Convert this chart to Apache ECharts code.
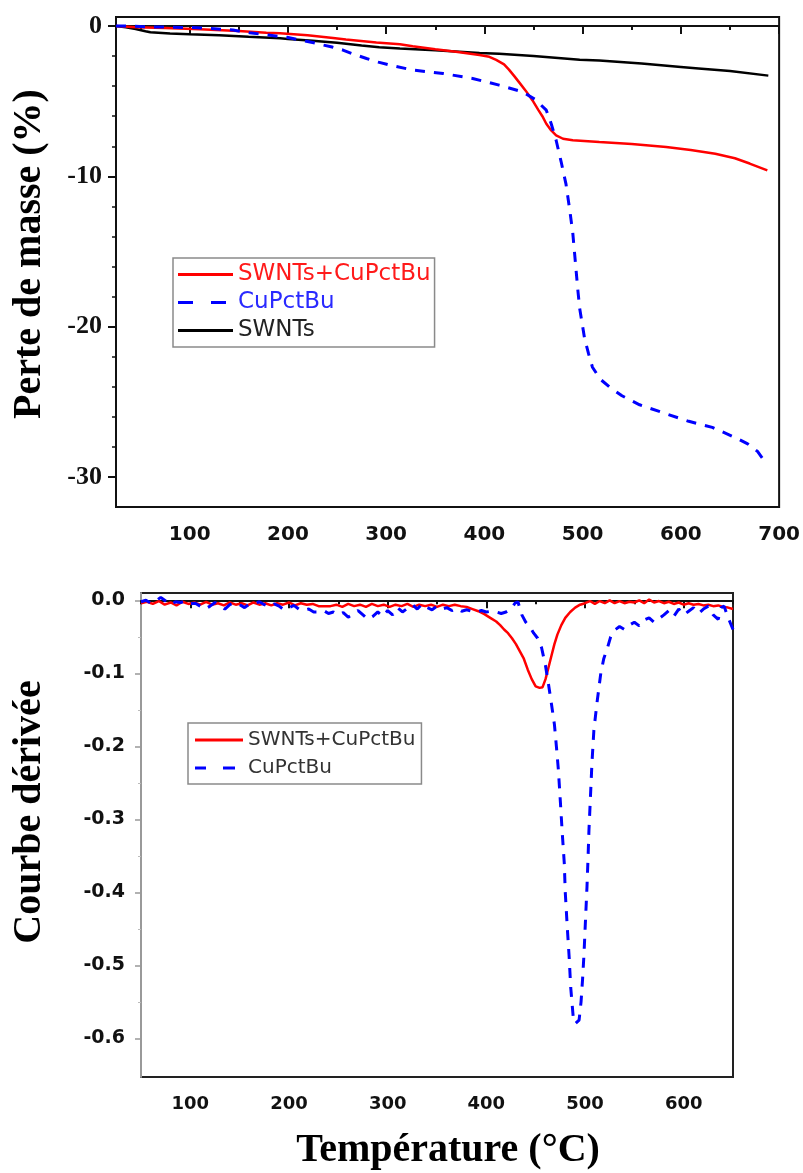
<!DOCTYPE html>
<html>
<head>
<meta charset="utf-8">
<script src="https://cdn.jsdelivr.net/npm/echarts@6.0.0/dist/echarts.min.js"></script>
<style>
html,body{margin:0;padding:0;background:#fff;}
#chart{width:803px;height:1173px;}
</style>
</head>
<body>
<div id="chart"></div>
<script>
// ---------- TGA (top) ----------
var tgaXTicks = [100, 200, 300, 400, 500, 600, 700];
var tgaXMinor = [50, 150, 250, 350, 450, 550, 650];
var tgaYTicks = [-30, -20, -10, 0];
var tgaYMinor = [-28, -26, -24, -22, -18, -16, -14, -12, -8, -6, -4, -2];

var swntsT = [25, 35, 45, 55, 60, 80, 100, 130, 160, 192, 200, 225, 250, 275, 293, 314, 350, 395, 415, 450, 497, 517, 560, 600, 618, 650, 689];
var swntsW = [0, -0.08, -0.2, -0.35, -0.42, -0.5, -0.55, -0.62, -0.72, -0.82, -0.86, -0.98, -1.12, -1.3, -1.42, -1.5, -1.62, -1.8, -1.85, -2.0, -2.25, -2.3, -2.5, -2.72, -2.82, -3.0, -3.3];

var hybT = [25, 45, 75, 110, 150, 178, 192, 220, 246, 259, 290, 314, 327, 350, 371, 395, 405, 412, 420, 425, 430, 436, 442, 449, 455, 459, 463, 468, 473, 480, 490, 517, 550, 585, 610, 635, 655, 670, 688];
var hybW = [0, -0.08, -0.14, -0.22, -0.33, -0.45, -0.48, -0.62, -0.8, -0.9, -1.1, -1.22, -1.35, -1.55, -1.71, -1.93, -2.05, -2.25, -2.55, -2.9, -3.3, -3.8, -4.3, -4.95, -5.6, -6.0, -6.5, -6.95, -7.27, -7.5, -7.6, -7.72, -7.85, -8.05, -8.25, -8.5, -8.8, -9.15, -9.6];

var cuT = [25, 40, 55, 80, 100, 120, 144, 161, 180, 199, 225, 245, 256, 268, 280, 292, 304, 327, 358, 388, 415, 439, 452, 463, 468, 473, 478, 483, 487, 490, 493, 495, 497, 500, 502, 506, 510, 518, 527, 540, 558, 585, 608, 632, 656, 668, 678, 688];
var cuW = [0, 0, -0.05, -0.08, -0.1, -0.15, -0.27, -0.45, -0.6, -0.75, -1.1, -1.4, -1.6, -1.9, -2.16, -2.4, -2.6, -2.93, -3.16, -3.49, -3.93, -4.38, -4.9, -5.6, -6.5, -7.6, -9.0, -10.5, -12.3, -13.8, -16.0, -17.5, -18.8, -20.0, -20.8, -21.8, -22.7, -23.5, -24.0, -24.6, -25.2, -25.8, -26.3, -26.7, -27.4, -27.8, -28.3, -29.2];

// ---------- DTG (bottom) ----------
var dtgXTicks = [100, 200, 300, 400, 500, 600];
var dtgXMinor = [50, 150, 250, 350, 450, 550, 650];
var dtgYTicks = [-0.6, -0.5, -0.4, -0.3, -0.2, -0.1, 0];
var dtgYMinor = [-0.55, -0.45, -0.35, -0.25, -0.15, -0.05];

var dHybT = [50, 56, 62, 68, 74, 80, 86, 92, 98, 104, 110, 116, 122, 128, 134, 140, 146, 152, 158, 164, 170, 176, 182, 188, 194, 200, 206, 212, 218, 224, 230, 236, 242, 248, 254, 260, 266, 272, 278, 284, 290, 296, 302, 308, 314, 320, 326, 332, 338, 344, 350, 356, 362, 368, 374, 380, 386, 392, 398, 404, 410, 414, 418, 422, 426, 430, 434, 438, 442, 446, 450, 454, 457, 460, 463, 466, 469, 472, 476, 480, 485, 490, 495, 500, 505, 510, 515, 520, 525, 530, 535, 540, 545, 550, 555, 560, 565, 570, 575, 580, 585, 590, 595, 600, 605, 610, 615, 620, 625, 630, 635, 640, 645, 650];
var dHybV = [-0.004, -0.002, -0.005, -0.001, -0.006, -0.003, -0.007, -0.002, -0.005, -0.003, -0.006, -0.002, -0.006, -0.004, -0.007, -0.003, -0.006, -0.004, -0.007, -0.003, -0.006, -0.004, -0.007, -0.004, -0.006, -0.003, -0.007, -0.004, -0.006, -0.005, -0.008, -0.008, -0.008, -0.006, -0.009, -0.005, -0.008, -0.006, -0.009, -0.005, -0.008, -0.006, -0.009, -0.006, -0.008, -0.005, -0.009, -0.006, -0.008, -0.006, -0.009, -0.006, -0.008, -0.006, -0.008, -0.009, -0.012, -0.015, -0.019, -0.024, -0.029, -0.034, -0.04, -0.045, -0.052, -0.06, -0.07, -0.08, -0.095, -0.108, -0.118, -0.12, -0.119, -0.108, -0.092, -0.076, -0.06, -0.047, -0.034, -0.024, -0.016, -0.01, -0.006, -0.004, -0.001, -0.005, -0.001, -0.004, 0.0, -0.004, -0.001, -0.004, -0.002, -0.003, 0.0, -0.004, 0.001, -0.003, -0.001, -0.004, -0.002, -0.005, -0.003, -0.006, -0.004, -0.006, -0.005, -0.007, -0.006, -0.008, -0.007, -0.009, -0.01, -0.012];

var dCuT = [50, 55, 60, 65, 70, 75, 80, 85, 90, 95, 100, 105, 110, 115, 120, 125, 130, 135, 140, 145, 150, 155, 160, 165, 170, 175, 180, 185, 190, 195, 200, 205, 210, 215, 220, 225, 230, 235, 240, 245, 250, 255, 260, 265, 270, 275, 280, 285, 290, 295, 300, 305, 310, 315, 320, 325, 330, 335, 340, 345, 350, 355, 360, 365, 370, 375, 380, 385, 390, 395, 400, 405, 410, 415, 420, 425, 429, 432, 436, 440, 444, 448, 452, 456, 460, 463, 466, 469, 471, 473, 475, 477, 479, 480, 482, 484, 485.5, 488, 490, 492, 494, 496, 497.5, 499, 500.5, 502, 503, 504, 505.5, 507, 509, 512, 516, 519, 523, 526, 530, 535, 540, 545, 550, 555, 560, 565, 570, 575, 580, 585, 590, 595, 600, 605, 610, 615, 620, 625, 630, 635, 638, 641, 644, 647, 650];
var dCuV = [-0.002, 0.0, -0.004, -0.001, 0.004, -0.001, -0.006, -0.002, -0.003, -0.001, -0.005, -0.004, -0.008, -0.012, -0.008, -0.003, -0.007, -0.012, -0.006, -0.003, -0.006, -0.01, -0.005, -0.004, -0.002, -0.006, -0.009, -0.005, -0.008, -0.013, -0.01, -0.007, -0.012, -0.014, -0.012, -0.016, -0.016, -0.014, -0.018, -0.016, -0.02, -0.017, -0.023, -0.019, -0.014, -0.02, -0.026, -0.022, -0.016, -0.022, -0.014, -0.02, -0.01, -0.016, -0.011, -0.006, -0.012, -0.005, -0.01, -0.013, -0.008, -0.012, -0.01, -0.014, -0.011, -0.015, -0.013, -0.015, -0.016, -0.014, -0.016, -0.015, -0.016, -0.018, -0.016, -0.012, -0.004, -0.002, -0.02, -0.03, -0.036, -0.045, -0.052, -0.065, -0.09, -0.115, -0.142, -0.17, -0.2, -0.232, -0.275, -0.32, -0.36, -0.4, -0.447, -0.49, -0.53, -0.57, -0.58, -0.582, -0.575, -0.55, -0.52, -0.484, -0.438, -0.393, -0.356, -0.315, -0.27, -0.224, -0.178, -0.142, -0.1, -0.08, -0.064, -0.05, -0.041, -0.036, -0.04, -0.034, -0.03, -0.035, -0.027, -0.024, -0.03, -0.025, -0.02, -0.014, -0.022, -0.012, -0.02, -0.015, -0.01, -0.018, -0.012, -0.008, -0.02, -0.026, -0.01, -0.008, -0.02, -0.03, -0.04];

var seriesNames = ['SWNTs+CuPctBu', 'CuPctBu', 'SWNTs'];
var titleTop = 'Perte de masse (%)';
var titleBottom = 'Courbe dérivée';
var titleX = 'Température (°C)';

function pairs(xs, ys) { return xs.map(function (x, i) { return [x, ys[i]]; }); }

var sans = 'DejaVu Sans';
var serif = 'Liberation Serif';

// legend sample icons (solid / dashed strokes)
var iconSolidTop = 'path://M0,0h55v3h-55z';
var iconDashTop = 'path://M0,0h15v3h-15zM33,0h15v3h-15zM54.9,1.4h0.1v0.1h-0.1z';
var iconSolidBot = 'path://M0,0h48v3h-48z';
var iconDashBot = 'path://M0,0h11v3h-11zM28,0h12v3h-12zM47.9,1.4h0.1v0.1h-0.1z';

var chart = echarts.init(document.getElementById('chart'), null, { renderer: 'canvas' });
chart.setOption({
  backgroundColor: '#fff',
  animation: false,
  grid: [
    { left: 116, top: 17, width: 665, height: 490, show: true, borderColor: '#111', borderWidth: 2, backgroundColor: 'transparent' },
    { left: 141, top: 593, width: 592, height: 484, show: true, borderColor: '#222', borderWidth: 2, backgroundColor: 'transparent' }
  ],
  graphic: [
    { type: 'text', x: 30, y: 254, rotation: Math.PI / 2,
      style: { text: titleTop, font: 'bold 40px "Liberation Serif"', fill: '#000', align: 'center', verticalAlign: 'middle' } },
    { type: 'text', x: 30, y: 812, rotation: Math.PI / 2,
      style: { text: titleBottom, font: 'bold 40px "Liberation Serif"', fill: '#000', align: 'center', verticalAlign: 'middle' } },
    { type: 'text', x: 448, y: 1151,
      style: { text: titleX, font: 'bold 40px "Liberation Serif"', fill: '#000', align: 'center', verticalAlign: 'middle' } }
  ],
  legend: [
    {
      orient: 'vertical', left: 173, top: 258,
      data: [
        { name: seriesNames[0], icon: iconSolidTop, textStyle: { color: '#ff1a1a' } },
        { name: seriesNames[1], icon: iconDashTop, textStyle: { color: '#2a2aff' } },
        { name: seriesNames[2], icon: iconSolidTop, textStyle: { color: '#222' } }
      ],
      itemWidth: 55, itemHeight: 3, itemGap: 5,
      padding: [5, 4, 5, 5],
      borderColor: '#8a8a8a', borderWidth: 1.5, backgroundColor: '#fff',
      textStyle: { fontFamily: sans, fontSize: 23, lineHeight: 23 },
      selectedMode: false
    },
    {
      orient: 'vertical', left: 188, top: 723,
      data: [
        { name: seriesNames[0], icon: iconSolidBot },
        { name: seriesNames[1], icon: iconDashBot }
      ],
      itemWidth: 48, itemHeight: 3, itemGap: 8,
      padding: [7, 6, 6, 7],
      borderColor: '#8a8a8a', borderWidth: 1.5, backgroundColor: '#fff',
      textStyle: { fontFamily: sans, fontSize: 20, lineHeight: 20, color: '#333' },
      selectedMode: false
    }
  ],
  xAxis: [
    {
      gridIndex: 0, type: 'value', min: 25, max: 700, position: 'bottom',
      axisLine: { show: true, lineStyle: { color: '#111', width: 2 } },
      axisTick: { show: true, customValues: tgaXTicks, length: 8, lineStyle: { color: '#111', width: 2 } },
      axisLabel: { customValues: tgaXTicks, fontFamily: sans, fontWeight: 'bold', fontSize: 20, color: '#111', margin: 18 },
      splitLine: { show: false }
    },
    {
      gridIndex: 0, type: 'value', min: 25, max: 700, position: 'bottom',
      axisLine: { show: false },
      axisTick: { show: true, customValues: tgaXMinor, length: 4, lineStyle: { color: '#111', width: 2 } },
      axisLabel: { show: false },
      splitLine: { show: false }
    },
    {
      gridIndex: 1, type: 'value', min: 50, max: 650, position: 'bottom',
      axisLine: { show: true, lineStyle: { color: '#111', width: 2 } },
      axisTick: { show: true, customValues: dtgXTicks, length: 8, lineStyle: { color: '#111', width: 2 } },
      axisLabel: { customValues: dtgXTicks, fontFamily: sans, fontWeight: 'bold', fontSize: 18, color: '#111', margin: 18 },
      splitLine: { show: false }
    },
    {
      gridIndex: 1, type: 'value', min: 50, max: 650, position: 'bottom',
      axisLine: { show: false },
      axisTick: { show: true, customValues: dtgXMinor, length: 4, lineStyle: { color: '#111', width: 2 } },
      axisLabel: { show: false },
      splitLine: { show: false }
    }
  ],
  yAxis: [
    {
      gridIndex: 0, type: 'value', min: -32, max: 0.6, position: 'left',
      axisLine: { show: true, lineStyle: { color: '#111', width: 2 } },
      axisTick: { show: true, customValues: tgaYTicks, length: 8, lineStyle: { color: '#111', width: 2 } },
      axisLabel: { customValues: tgaYTicks, fontFamily: serif, fontWeight: 'bold', fontSize: 26, color: '#111', margin: 14 },
      splitLine: { show: false }
    },
    {
      gridIndex: 0, type: 'value', min: -32, max: 0.6, position: 'left',
      axisLine: { show: false },
      axisTick: { show: true, customValues: tgaYMinor, length: 4, lineStyle: { color: '#111', width: 1.5 } },
      axisLabel: { show: false },
      splitLine: { show: false }
    },
    {
      gridIndex: 1, type: 'value', min: -0.653, max: 0.01, position: 'left',
      axisLine: { show: true, lineStyle: { color: '#999', width: 2 } },
      axisTick: { show: true, customValues: dtgYTicks, length: 6, lineStyle: { color: '#999', width: 1.5 } },
      axisLabel: { customValues: dtgYTicks, formatter: function (v) { return v.toFixed(1); }, fontFamily: sans, fontWeight: 'bold', fontSize: 19, color: '#111', margin: 16 },
      splitLine: { show: false }
    },
    {
      gridIndex: 1, type: 'value', min: -0.653, max: 0.01, position: 'left',
      axisLine: { show: false },
      axisTick: { show: true, customValues: dtgYMinor, length: 3, lineStyle: { color: '#bbb', width: 1 } },
      axisLabel: { show: false },
      splitLine: { show: false }
    }
  ],
  series: [
    { name: seriesNames[2], type: 'line', xAxisIndex: 0, yAxisIndex: 0, symbol: 'none', smooth: false,
      data: pairs(swntsT, swntsW), lineStyle: { color: '#000', width: 2.5 }, itemStyle: { color: '#000' } },
    { name: seriesNames[0], type: 'line', xAxisIndex: 0, yAxisIndex: 0, symbol: 'none', smooth: false,
      data: pairs(hybT, hybW), lineStyle: { color: '#ff0000', width: 2.5 }, itemStyle: { color: '#ff0000' } },
    { name: seriesNames[1], type: 'line', xAxisIndex: 0, yAxisIndex: 0, symbol: 'none', smooth: false,
      data: pairs(cuT, cuW), lineStyle: { color: '#0000ff', width: 3, type: [10, 9] }, itemStyle: { color: '#0000ff' } },
    { name: seriesNames[0], type: 'line', xAxisIndex: 2, yAxisIndex: 2, symbol: 'none', smooth: false,
      data: pairs(dHybT, dHybV), lineStyle: { color: '#ff0000', width: 2.5 }, itemStyle: { color: '#ff0000' } },
    { name: seriesNames[1], type: 'line', xAxisIndex: 2, yAxisIndex: 2, symbol: 'none', smooth: false,
      data: pairs(dCuT, dCuV), lineStyle: { color: '#0000ff', width: 3, type: [10, 9] }, itemStyle: { color: '#0000ff' } }
  ]
});
</script>
</body>
</html>
